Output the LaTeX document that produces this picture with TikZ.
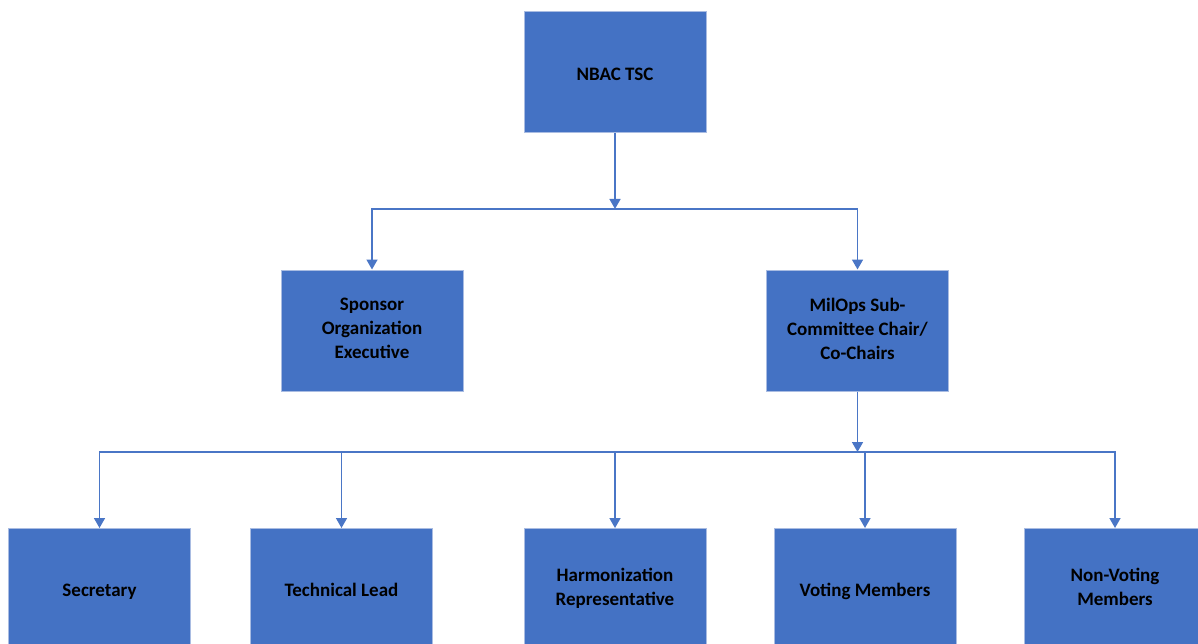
\documentclass[tikz,border=0pt]{standalone}
\usepackage{fontspec}
\setmainfont{Carlito}
\usetikzlibrary{arrows.meta}
\definecolor{boxblue}{HTML}{4472C4}
\definecolor{edgeblue}{HTML}{A9BCE2}
\definecolor{lineblue}{HTML}{4A76C6}
\newcommand{\topstrut}{\rule{0pt}{19.8pt}}
\newcommand{\botstrut}{\rule[-4.2pt]{0pt}{4.2pt}}
\begin{document}
\begin{tikzpicture}[x=1pt,y=-1pt,
  orgbox/.style={draw=edgeblue,line width=1pt,fill=boxblue,minimum width=182pt,minimum height=121pt,inner sep=0pt,align=center,text=black,font=\fontsize{19}{24}\selectfont\bfseries,execute at begin node=\topstrut,execute at end node=\botstrut},
  conn/.style={draw=lineblue,line width=1.6pt},
  arr/.style={conn,-{Triangle[width=11pt,length=10pt]}}]
\useasboundingbox (0,0) rectangle (1198,644);
\clip (0,0) rectangle (1198,644);
\fill[white] (0,0) rectangle (1198,644);
\node[orgbox] (nbac) at (615,72.5) {NBAC TSC};
\node[orgbox] (spon) at (372,330.5) {Sponsor\\Organization\\Executive};
\node[orgbox] (mil) at (857.5,330.5) {MilOps Sub-\\Committee Chair/\\Co-Chairs};
\node[orgbox] (sec) at (99.5,589) {Secretary};
\node[orgbox] (tech) at (341.5,589) {Technical Lead};
\node[orgbox] (harm) at (615,589) {Harmonization\\Representative};
\node[orgbox] (vote) at (865,589) {Voting Members};
\node[orgbox] (nonv) at (1115,589) {Non-Voting\\Members};
\coordinate (b1) at (615,209);
\coordinate (b2) at (857.5,452);
\draw[arr] (nbac.south) -- (b1);
\draw[arr] (b1) -| (spon.north);
\draw[arr] (b1) -| (mil.north);
\draw[arr] (mil.south) -- (b2);
\draw[arr] (b2) -| (sec.north);
\draw[arr] (b2) -| (tech.north);
\draw[arr] (b2) -| (harm.north);
\draw[arr] (b2) -| (vote.north);
\draw[arr] (b2) -| (nonv.north);
\end{tikzpicture}
\end{document}
